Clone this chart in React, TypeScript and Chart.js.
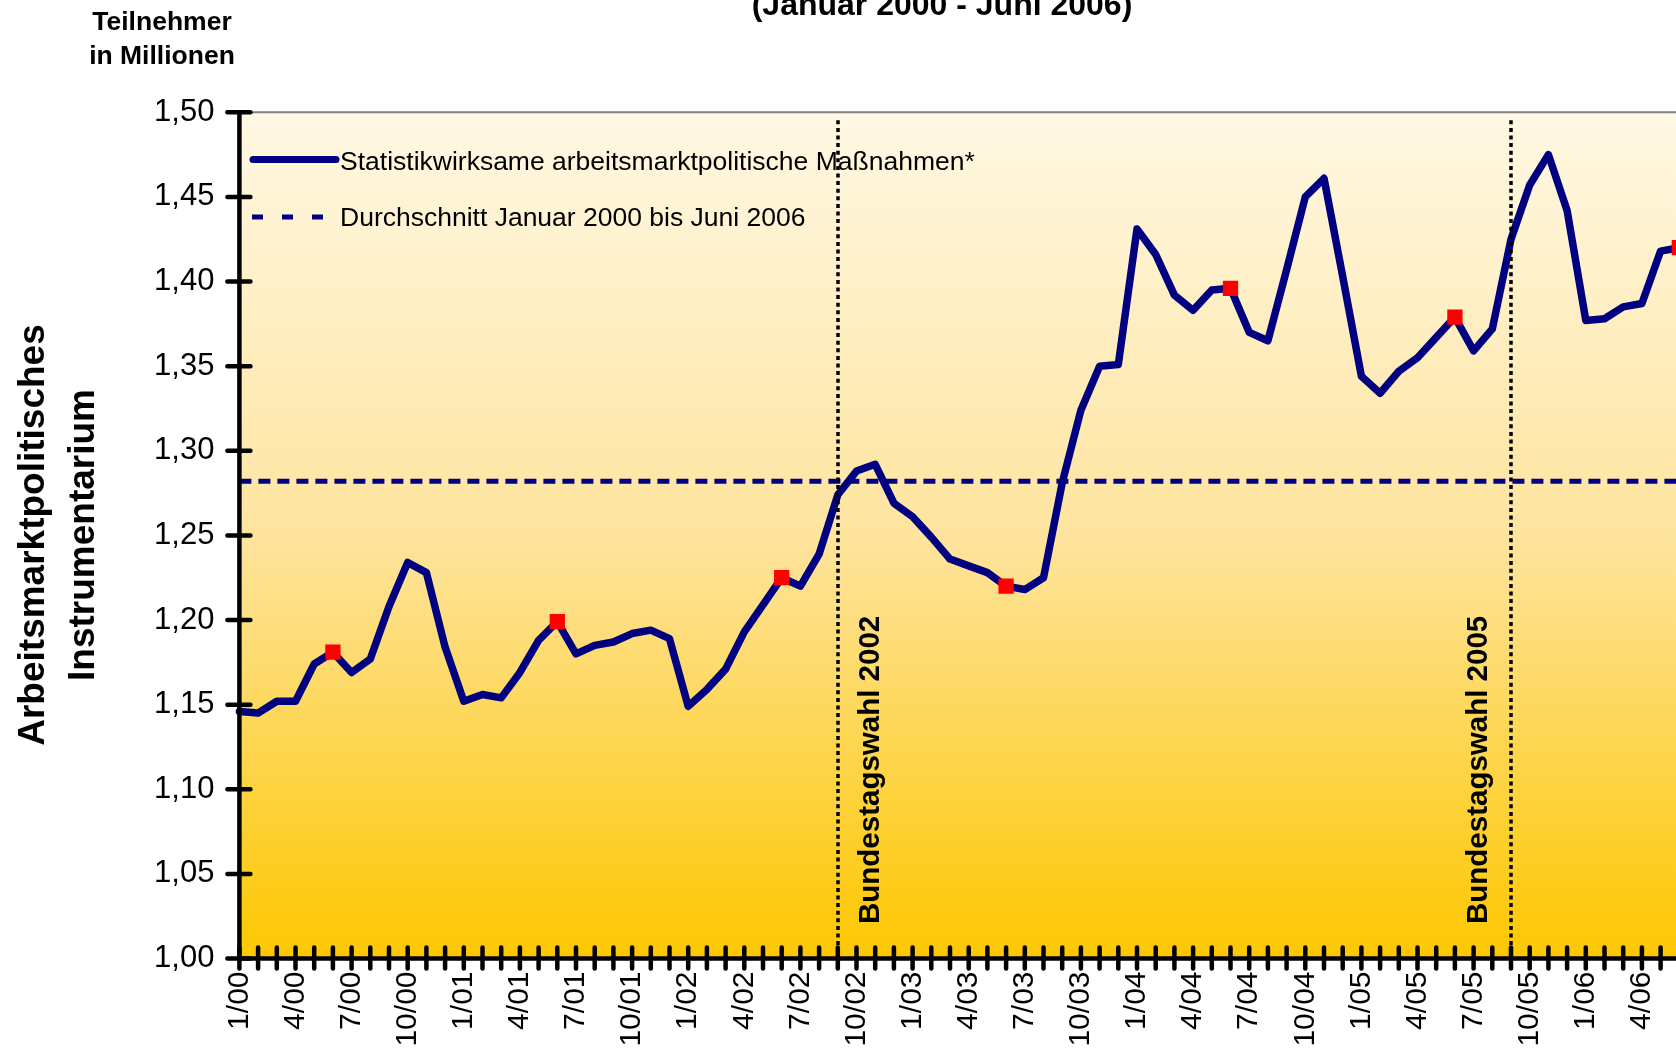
import React, { useEffect, useRef } from "react";
import { Chart, registerables } from "chart.js";

Chart.register(...registerables);

// ---------- data ----------
const MONTHS = [
  "1/00", "2/00", "3/00", "4/00", "5/00", "6/00", "7/00", "8/00", "9/00", "10/00", "11/00", "12/00",
  "1/01", "2/01", "3/01", "4/01", "5/01", "6/01", "7/01", "8/01", "9/01", "10/01", "11/01", "12/01",
  "1/02", "2/02", "3/02", "4/02", "5/02", "6/02", "7/02", "8/02", "9/02", "10/02", "11/02", "12/02",
  "1/03", "2/03", "3/03", "4/03", "5/03", "6/03", "7/03", "8/03", "9/03", "10/03", "11/03", "12/03",
  "1/04", "2/04", "3/04", "4/04", "5/04", "6/04", "7/04", "8/04", "9/04", "10/04", "11/04", "12/04",
  "1/05", "2/05", "3/05", "4/05", "5/05", "6/05", "7/05", "8/05", "9/05", "10/05", "11/05", "12/05",
  "1/06", "2/06", "3/06", "4/06", "5/06", "6/06",
];

const MASSNAHMEN = [
  1.146, 1.145, 1.152, 1.152, 1.174, 1.181, 1.169, 1.177, 1.208, 1.234, 1.228, 1.184,
  1.152, 1.156, 1.154, 1.169, 1.188, 1.199, 1.180, 1.185, 1.187, 1.192, 1.194, 1.189,
  1.149, 1.159, 1.171, 1.193, 1.209, 1.225, 1.220, 1.239, 1.274, 1.288, 1.292, 1.269,
  1.261, 1.249, 1.236, 1.232, 1.228, 1.220, 1.218, 1.225, 1.281, 1.324, 1.350, 1.351,
  1.431, 1.416, 1.392, 1.383, 1.395, 1.396, 1.370, 1.365, 1.407, 1.450, 1.461, 1.403,
  1.344, 1.334, 1.347, 1.355, 1.367, 1.379, 1.359, 1.372, 1.425, 1.457, 1.475, 1.442,
  1.377, 1.378, 1.385, 1.387, 1.418, 1.420,
];

const AVERAGE = 1.282;

const MARKER_MONTHS = ["6/00", "6/01", "6/02", "6/03", "6/04", "6/05", "6/06"];

const ELECTION_MONTHS = ["9/02", "9/05"];
const ELECTION_LABELS = ["Bundestagswahl 2002", "Bundestagswahl 2005"];

const Y_MIN = 1.0;
const Y_MAX = 1.5;
const Y_STEP = 0.05;

const TITLE = "(Januar 2000 - Juni 2006)";
const UNIT_LINES = ["Teilnehmer", "in Millionen"];
const Y_TITLE_LINES = ["Arbeitsmarktpolitisches", "Instrumentarium"];
const LEGEND_LABELS = [
  "Statistikwirksame arbeitsmarktpolitische Maßnahmen*",
  "Durchschnitt Januar 2000 bis Juni 2006",
];

// ---------- styles ----------
const FONT = '"Liberation Sans", Arial, Helvetica, sans-serif';
const NAVY = "#000080";
const CANVAS_W = 1700;
const CANVAS_H = 1053;
const PLOT_LEFT = 239.4;
const PLOT_RIGHT = 1679.3;
const PLOT_TOP = 112.3;
const PLOT_BOTTOM = 958.5;
const LABEL_OFFSETS = [41, -24];

const decorPlugin = {
  id: "decor",
  beforeDatasetsDraw(chart: any) {
    const { ctx, chartArea: a } = chart;
    ctx.save();
    const g = ctx.createLinearGradient(0, a.top, 0, a.bottom);
    g.addColorStop(0, "#FFF8E4");
    g.addColorStop(0.5, "#FEE49E");
    g.addColorStop(1, "#FDC700");
    ctx.fillStyle = g;
    ctx.fillRect(a.left, a.top, a.right - a.left, a.bottom - a.top);
    ctx.strokeStyle = "#808080";
    ctx.lineWidth = 2;
    ctx.beginPath();
    ctx.moveTo(a.left, a.top);
    ctx.lineTo(a.right, a.top);
    ctx.lineTo(a.right, a.bottom);
    ctx.stroke();
    ctx.restore();
  },
  afterDatasetsDraw(chart: any) {
    const { ctx, chartArea: a } = chart;
    const xs = chart.scales.x;
    const ys = chart.scales.y;
    ctx.save();
    // election markers
    ctx.strokeStyle = "#000";
    ctx.lineWidth = 3.5;
    ctx.setLineDash([4, 3.6]);
    ELECTION_MONTHS.forEach((m) => {
      const x = Math.round(xs.getPixelForValue(MONTHS.indexOf(m)));
      ctx.beginPath();
      ctx.moveTo(x, a.top + 8);
      ctx.lineTo(x, a.bottom);
      ctx.stroke();
    });
    ctx.setLineDash([]);
    ctx.fillStyle = "#000";
    ctx.font = `bold 29.5px ${FONT}`;
    ctx.textAlign = "left";
    ctx.textBaseline = "alphabetic";
    ELECTION_LABELS.forEach((t, i) => {
      const x = xs.getPixelForValue(MONTHS.indexOf(ELECTION_MONTHS[i])) + LABEL_OFFSETS[i];
      ctx.save();
      ctx.translate(x, a.bottom - 34.5);
      ctx.rotate(-Math.PI / 2);
      ctx.fillText(t, 0, 0);
      ctx.restore();
    });
    // axes with crossing ticks
    ctx.strokeStyle = "#000";
    ctx.lineWidth = 4.5;
    ctx.lineCap = "round";
    ctx.beginPath();
    ctx.moveTo(a.left, a.top);
    ctx.lineTo(a.left, a.bottom);
    ctx.lineTo(a.right + 30, a.bottom);
    ctx.stroke();
    ys.ticks.forEach((t: any) => {
      const y = ys.getPixelForValue(t.value);
      ctx.beginPath();
      ctx.moveTo(a.left - 12, y);
      ctx.lineTo(a.left + 11, y);
      ctx.stroke();
    });
    MONTHS.forEach((_m, i) => {
      const x = xs.getPixelForValue(i);
      ctx.beginPath();
      ctx.moveTo(x, a.bottom - 11);
      ctx.lineTo(x, a.bottom + 10);
      ctx.stroke();
    });
    ctx.restore();
  },
  afterDraw(chart: any) {
    const { ctx } = chart;
    ctx.save();
    ctx.fillStyle = "#000";
    ctx.textAlign = "center";
    ctx.textBaseline = "alphabetic";
    ctx.font = `bold 32px ${FONT}`;
    ctx.fillText(TITLE, 942, 15);
    ctx.font = `bold 26.5px ${FONT}`;
    ctx.fillText(UNIT_LINES[0], 162, 30);
    ctx.fillText(UNIT_LINES[1], 162, 64);
    ctx.font = `bold 37px ${FONT}`;
    Y_TITLE_LINES.forEach((t, i) => {
      ctx.save();
      ctx.translate(44 + i * 50, 535);
      ctx.rotate(-Math.PI / 2);
      ctx.fillText(t, 0, 0);
      ctx.restore();
    });
    // legend
    ctx.strokeStyle = NAVY;
    ctx.lineCap = "round";
    ctx.lineWidth = 7;
    ctx.beginPath();
    ctx.moveTo(253, 159.5);
    ctx.lineTo(336, 159.5);
    ctx.stroke();
    ctx.lineCap = "butt";
    ctx.lineWidth = 5;
    [252, 282, 312].forEach((x0) => {
      ctx.beginPath();
      ctx.moveTo(x0, 217);
      ctx.lineTo(x0 + 11, 217);
      ctx.stroke();
    });
    ctx.font = `26.5px ${FONT}`;
    ctx.textAlign = "left";
    ctx.textBaseline = "middle";
    ctx.fillText(LEGEND_LABELS[0], 340, 162.5);
    ctx.fillText(LEGEND_LABELS[1], 340, 219);
    ctx.restore();
  },
};

export default function App() {
  const ref = useRef<HTMLCanvasElement | null>(null);
  useEffect(() => {
    if (!ref.current) return;
    const chart = new Chart(ref.current, {
      type: "line",
      data: {
        labels: MONTHS,
        datasets: [
          {
            label: LEGEND_LABELS[0],
            data: MASSNAHMEN,
            borderColor: NAVY,
            borderWidth: 7.5,
            borderJoinStyle: "round",
            borderCapStyle: "round",
            tension: 0,
            pointStyle: "rect",
            pointRadius: (c: any) => (MARKER_MONTHS.includes(MONTHS[c.dataIndex]) ? 10.8 : 0),
            pointHoverRadius: 0,
            pointBackgroundColor: "#FF0000",
            pointBorderColor: "#FF0000",
            pointBorderWidth: 0,
            order: 0,
          } as any,
          {
            label: LEGEND_LABELS[1],
            data: [
              { x: MONTHS[0], y: AVERAGE },
              { x: MONTHS[MONTHS.length - 1], y: AVERAGE },
            ],
            borderColor: NAVY,
            borderWidth: 5,
            borderDash: [12, 7],
            pointRadius: 0,
            order: 1,
          } as any,
        ],
      },
      options: {
        responsive: false,
        animation: false,
        devicePixelRatio: 1,
        layout: {
          padding: { top: PLOT_TOP, left: 0, right: CANVAS_W - PLOT_RIGHT, bottom: 0 },
        },
        plugins: {
          legend: { display: false },
          title: { display: false },
          tooltip: { enabled: false },
        },
        scales: {
          x: {
            type: "category",
            offset: false,
            grid: { display: false },
            border: { display: false },
            ticks: {
              autoSkip: false,
              maxRotation: 90,
              minRotation: 90,
              padding: 5,
              color: "#000",
              font: { family: FONT, size: 30 },
              callback: function (this: any, value: any, index: number) {
                return index % 3 === 0 ? MONTHS[index] : "";
              },
            },
            afterFit: (s: any) => {
              s.height = CANVAS_H - PLOT_BOTTOM;
              s.paddingLeft = 0;
              s.paddingRight = 0;
            },
          },
          y: {
            type: "linear",
            min: Y_MIN,
            max: Y_MAX,
            grid: { display: false },
            border: { display: false },
            ticks: {
              stepSize: Y_STEP,
              padding: 17,
              color: "#000",
              font: { family: FONT, size: 31 },
              callback: (v: any) => Number(v).toFixed(2).replace(".", ","),
            },
            afterFit: (s: any) => {
              s.width = PLOT_LEFT;
              s.paddingTop = 0;
              s.paddingBottom = 0;
            },
          },
        },
      },
      plugins: [decorPlugin],
    });
    return () => chart.destroy();
  }, []);

  return (
    <div
      style={{
        position: "fixed",
        left: 0,
        top: 0,
        width: 1676,
        height: 1053,
        overflow: "hidden",
        background: "#ffffff",
      }}
    >
      <canvas
        ref={ref}
        width={CANVAS_W}
        height={CANVAS_H}
        style={{ display: "block", width: CANVAS_W, height: CANVAS_H }}
      />
    </div>
  );
}
